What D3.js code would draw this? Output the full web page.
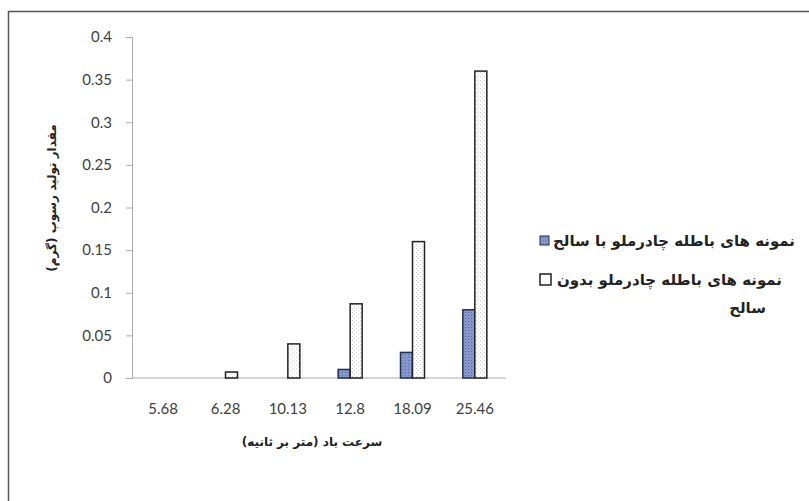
<!DOCTYPE html>
<html>
<head>
<meta charset="utf-8">
<script src="https://cdn.jsdelivr.net/npm/d3@7"></script>
<style>
  body { margin: 0; background: #fff; }
  .tick text { font-family: Lato, "Liberation Sans", sans-serif; font-size: 15px; fill: #404040; }
  .fa { font-family: "DejaVu Sans", sans-serif; font-weight: bold; fill: #222; }
</style>
</head>
<body>
<svg></svg>
<script>
  var categories = ['5.68', '6.28', '10.13', '12.8', '18.09', '25.46'];
  var withSaltier = [0, 0, 0, 0.01, 0.03, 0.08];
  var withoutSaltier = [0, 0.007, 0.04, 0.087, 0.16, 0.36];
  var yTicks = [0, 0.05, 0.1, 0.15, 0.2, 0.25, 0.3, 0.35, 0.4];
  var legendLabels = ['نمونه های باطله چادرملو با سالح', 'نمونه های باطله چادرملو بدون', 'سالح'];
  var xTitle = 'سرعت باد (متر بر ثانیه)';
  var yTitle = 'مقدار تولید رسوب (گرم)';

  var width = 809;
  var height = 501;

  var svg = d3.select('svg')
    .attr('width', width)
    .attr('height', height);

  // patterns
  var defs = svg.append('defs');
  var pBlue = defs.append('pattern')
    .attr('id', 'pBlue')
    .attr('width', 3).attr('height', 3)
    .attr('patternUnits', 'userSpaceOnUse');
  pBlue.append('rect').attr('width', 3).attr('height', 3).attr('fill', '#8597cc');
  pBlue.append('rect').attr('width', 1).attr('height', 1).attr('fill', '#5c6fa8');
  var pWhite = defs.append('pattern')
    .attr('id', 'pWhite')
    .attr('width', 4).attr('height', 4)
    .attr('patternUnits', 'userSpaceOnUse');
  pWhite.append('rect').attr('width', 4).attr('height', 4).attr('fill', '#fff');
  pWhite.append('rect').attr('width', 1).attr('height', 1).attr('fill', '#c8c8c8');
  pWhite.append('rect').attr('x', 2).attr('y', 2).attr('width', 1).attr('height', 1).attr('fill', '#d8d8d8');

  // frame
  svg.append('rect')
    .attr('x', 8.5).attr('y', 11.5)
    .attr('width', 830).attr('height', 520)
    .attr('fill', 'none')
    .attr('stroke', '#555')
    .attr('stroke-width', 1.5);

  var x = d3.scaleBand()
    .domain(categories)
    .range([132, 506]);

  var y = d3.scaleLinear()
    .domain([0, 0.4])
    .range([378, 37]);

  var barW = 12;

  // y axis
  var yAxis = svg.append('g')
    .attr('transform', 'translate(132,0)')
    .call(d3.axisLeft(y).tickValues(yTicks).tickSize(6).tickPadding(14)
      .tickFormat(function (d) { return d3.format('')(+d.toFixed(2)); }));
  yAxis.select('.domain').attr('stroke', '#aaa');
  yAxis.selectAll('.tick line').attr('stroke', '#aaa');

  // x axis
  var xAxis = svg.append('g')
    .attr('transform', 'translate(0,378)')
    .call(d3.axisBottom(x).tickSize(0).tickPadding(25));
  xAxis.select('.domain').attr('stroke', '#aaa').attr('d', 'M132,0H506');

  // bars
  var g = svg.append('g');
  g.selectAll('rect.s1')
    .data(withSaltier)
    .enter()
    .append('rect')
    .attr('class', 's1')
    .attr('x', function (d, i) { return x(categories[i]) + x.bandwidth() / 2 - barW; })
    .attr('y', function (d) { return y(d); })
    .attr('width', barW)
    .attr('height', function (d) { return y(0) - y(d); })
    .attr('fill', 'url(#pBlue)')
    .attr('stroke', function (d) { return d > 0 ? '#1f2f4f' : 'none'; })
    .attr('stroke-width', 1.5);

  g.selectAll('rect.s2')
    .data(withoutSaltier)
    .enter()
    .append('rect')
    .attr('class', 's2')
    .attr('x', function (d, i) { return x(categories[i]) + x.bandwidth() / 2; })
    .attr('y', function (d) { return y(d); })
    .attr('width', barW)
    .attr('height', function (d) { return y(0) - y(d); })
    .attr('fill', 'url(#pWhite)')
    .attr('stroke', function (d) { return d > 0 ? '#222' : 'none'; })
    .attr('stroke-width', 1.5);

  // axis titles, centred by measuring the rendered text
  var xt = svg.append('g');
  var xtText = xt.append('text')
    .attr('class', 'fa')
    .attr('direction', 'rtl')
    .style('font-size', '12px')
    .text(xTitle);
  var b = xtText.node().getBBox();
  xt.attr('transform', 'translate(' + (312 - b.x - b.width / 2) + ',446)');

  var yt = svg.append('g');
  var ytText = yt.append('text')
    .attr('class', 'fa')
    .attr('direction', 'rtl')
    .style('font-size', '12px')
    .text(yTitle);
  var b2 = ytText.node().getBBox();
  yt.attr('transform', 'translate(56,198) rotate(-90) translate(' + (-b2.x - b2.width / 2) + ',0)');

  // legend
  var legend = svg.append('g');
  legend.append('rect')
    .attr('x', 540).attr('y', 236)
    .attr('width', 9).attr('height', 9)
    .attr('fill', 'url(#pBlue)')
    .attr('stroke', '#1f2f4f');
  legend.append('text')
    .attr('class', 'fa')
    .attr('x', 795).attr('y', 246)
    .attr('text-anchor', 'end')
    .style('font-size', '15px')
    .text(legendLabels[0]);

  legend.append('rect')
    .attr('x', 540).attr('y', 274)
    .attr('width', 11).attr('height', 11)
    .attr('fill', '#fff')
    .attr('stroke', '#222')
    .attr('stroke-width', 1.5);
  legend.append('text')
    .attr('class', 'fa')
    .attr('x', 782).attr('y', 285)
    .attr('text-anchor', 'end')
    .style('font-size', '15px')
    .text(legendLabels[1]);
  legend.append('text')
    .attr('class', 'fa')
    .attr('x', 766).attr('y', 313)
    .attr('text-anchor', 'end')
    .style('font-size', '15px')
    .text(legendLabels[2]);
</script>
</body>
</html>
